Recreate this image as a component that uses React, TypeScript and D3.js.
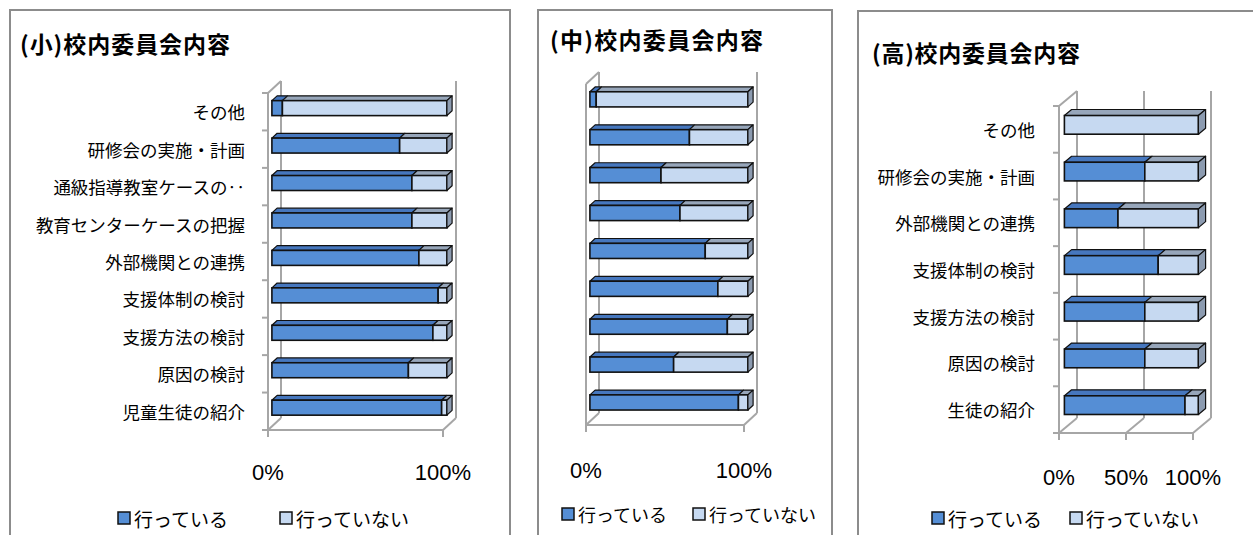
import React from 'react';
import * as d3 from 'd3';

// ---------- data ----------
const titleSmall = '(小)校内委員会内容';
const titleMid = '(中)校内委員会内容';
const titleHigh = '(高)校内委員会内容';

const catsSmall = ['その他', '研修会の実施・計画', '通級指導教室ケースの‥', '教育センターケースの把握', '外部機関との連携', '支援体制の検討', '支援方法の検討', '原因の検討', '児童生徒の紹介'];
const doneSmall = [6, 73, 80, 80, 84, 95, 92, 78, 97];

const catsMid = ['その他', '研修会の実施・計画', '通級指導教室ケースの把握', '教育センターケースの把握', '外部機関との連携', '支援体制の検討', '支援方法の検討', '原因の検討', '生徒の紹介'];
const doneMid = [4, 63, 45, 57, 73, 81, 87, 53, 94];

const catsHigh = ['その他', '研修会の実施・計画', '外部機関との連携', '支援体制の検討', '支援方法の検討', '原因の検討', '生徒の紹介'];
const doneHigh = [0, 60, 40, 70, 60, 60, 90];

const ticksSmall = [0, 100];
const ticksMid = [0, 100];
const ticksHigh = [0, 50, 100];

const seriesNames = ['行っている', '行っていない'];

// ---------- style ----------
const DARK = '#558ED5';
const DARK_TOP = '#4677BE';
const DARK_SIDE = '#3D69A8';
const LIGHT = '#C6D9F1';
const LIGHT_TOP = '#97A6BA';
const LIGHT_SIDE = '#8C9BB0';
const GRID = '#A6A6A6';
const JP = '"Noto Sans CJK JP", "Noto Sans", sans-serif';
const NUM = '"Liberation Sans", Arial, sans-serif';

type Cfg = {
  bx: number; by: number; bw: number;
  x0: number; x1: number; yTop: number; yBot: number; dx: number; dy: number;
  showLabels: boolean; labelX: number; labelSize: number; catTicks: boolean;
  titleX: number; titleY: number; titleW: number;
  tickLabelY: number;
  legY: number; leg1X: number; leg2X: number; legSize: number;
};

function Panel({ cfg, cats, done, title, ticks }: { cfg: Cfg; cats: string[]; done: number[]; title: string; ticks: number[] }) {
  const x = d3.scaleLinear().domain([0, 100]).range([cfg.x0, cfg.x1]);
  const y = d3.scaleBand<string>().domain(cats).range([cfg.yTop, cfg.yBot]).padding(0);
  const { dx, dy } = cfg;
  const f0 = 0.3, f1 = 0.7;
  const ddx = (f1 - f0) * dx, ddy = (f1 - f0) * dy;
  const bw = y.bandwidth();
  const bh = bw * 0.4;
  const boundaries = d3.range(cats.length + 1).map(i => cfg.yTop + i * bw);

  const bars = cats.map((c, i) => {
    const yc = (y(c) as number) + bw / 2;
    const yt = yc - bh / 2 + f0 * dy;
    const segs = [
      { a: 0, b: done[i], fill: DARK, top: DARK_TOP, side: DARK_SIDE },
      { a: done[i], b: 100, fill: LIGHT, top: LIGHT_TOP, side: LIGHT_SIDE },
    ].filter(s => s.b - s.a > 0.001);
    const last = segs[segs.length - 1];
    const xEnd = x(100) + f0 * dx;
    return (
      <g key={c}>
        {segs.map((s, j) => {
          const xa = x(s.a) + f0 * dx, xb = x(s.b) + f0 * dx;
          return (
            <g key={j}>
              <polygon points={`${xa},${yt} ${xb},${yt} ${xb + ddx},${yt + ddy} ${xa + ddx},${yt + ddy}`} fill={s.top} stroke="#111" strokeWidth={1.2} strokeLinejoin="round" />
              <rect x={xa} y={yt} width={xb - xa} height={bh} fill={s.fill} stroke="#111" strokeWidth={1.6} />
            </g>
          );
        })}
        <polygon points={`${xEnd},${yt} ${xEnd + ddx},${yt + ddy} ${xEnd + ddx},${yt + bh + ddy} ${xEnd},${yt + bh}`} fill={last.side} stroke="#111" strokeWidth={1.2} strokeLinejoin="round" />
      </g>
    );
  });

  return (
    <g>
      <rect x={cfg.bx} y={cfg.by} width={cfg.bw} height={600} fill="#fff" stroke="#8C8C8C" strokeWidth={2} />
      <text x={cfg.titleX} y={cfg.titleY} fontFamily={JP} fontWeight="bold" fontSize={23} dominantBaseline="central" textLength={cfg.titleW} lengthAdjust="spacing">{title}</text>
      {ticks.map(t => (
        <line key={'g' + t} x1={x(t) + dx} x2={x(t) + dx} y1={cfg.yTop + dy} y2={cfg.yBot + dy} stroke={GRID} strokeWidth={2} />
      ))}
      {ticks.map(t => (
        <line key={'f' + t} x1={x(t)} x2={x(t) + dx} y1={cfg.yBot} y2={cfg.yBot + dy} stroke={GRID} strokeWidth={2} />
      ))}
      <line x1={cfg.x0} x2={cfg.x0} y1={cfg.yTop} y2={cfg.yBot} stroke={GRID} strokeWidth={2} />
      <line x1={cfg.x0} x2={cfg.x0 + dx} y1={cfg.yTop} y2={cfg.yTop + dy} stroke={GRID} strokeWidth={2} />
      <line x1={cfg.x0} x2={cfg.x1} y1={cfg.yBot} y2={cfg.yBot} stroke={GRID} strokeWidth={2} />
      {ticks.map(t => (
        <line key={'t' + t} x1={x(t)} x2={x(t)} y1={cfg.yBot} y2={cfg.yBot + 7} stroke={GRID} strokeWidth={2} />
      ))}
      {cfg.catTicks && boundaries.map((b, i) => (
        <line key={'c' + i} x1={cfg.x0 - 6} x2={cfg.x0} y1={b} y2={b} stroke={GRID} strokeWidth={2} />
      ))}
      {bars}
      {cfg.showLabels && cats.map(c => (
        <text key={'l' + c} x={cfg.labelX} y={(y(c) as number) + bw / 2} textAnchor="end" dominantBaseline="central" fontFamily={JP} fontSize={cfg.labelSize} fill="#000">{c}</text>
      ))}
      {ticks.map(t => (
        <text key={'tl' + t} x={x(t)} y={cfg.tickLabelY} textAnchor="middle" dominantBaseline="central" fontFamily={NUM} fontSize={22} fill="#000">{`${t}%`}</text>
      ))}
      {[cfg.leg1X, cfg.leg2X].map((lx, i) => (
        <g key={'lg' + i}>
          <rect x={lx} y={cfg.legY - 6} width={12} height={12} fill={i === 0 ? DARK : LIGHT} stroke="#111" strokeWidth={1.5} />
          <text x={lx + 16} y={cfg.legY} dominantBaseline="central" fontFamily={JP} fontSize={cfg.legSize} fill="#000">{seriesNames[i]}</text>
        </g>
      ))}
    </g>
  );
}

const cfgSmall: Cfg = {
  bx: 10, by: 10, bw: 500,
  x0: 268, x1: 443, yTop: 93, yBot: 430, dx: 13, dy: -12,
  showLabels: true, labelX: 245, labelSize: 17.5, catTicks: true,
  titleX: 20, titleY: 43, titleW: 210,
  tickLabelY: 472,
  legY: 518, leg1X: 118, leg2X: 280, legSize: 19,
};
const cfgMid: Cfg = {
  bx: 538, by: 10, bw: 294,
  x0: 586, x1: 744, yTop: 84, yBot: 425, dx: 13, dy: -12,
  showLabels: false, labelX: 0, labelSize: 17, catTicks: false,
  titleX: 550, titleY: 39, titleW: 213,
  tickLabelY: 470,
  legY: 514, leg1X: 562, leg2X: 693, legSize: 18,
};
const cfgHigh: Cfg = {
  bx: 858, by: 11, bw: 420,
  x0: 1059, x1: 1193, yTop: 106, yBot: 433, dx: 18, dy: -15,
  showLabels: true, labelX: 1035, labelSize: 17.5, catTicks: true,
  titleX: 872, titleY: 52, titleW: 208,
  tickLabelY: 477,
  legY: 518, leg1X: 932, leg2X: 1070, legSize: 19,
};

export default function App() {
  return (
    <svg width={1253} height={535} style={{ position: 'absolute', left: 0, top: 0, background: '#fff' }}>
      <rect x={0} y={0} width={1253} height={535} fill="#fff" />
      <Panel cfg={cfgSmall} cats={catsSmall} done={doneSmall} title={titleSmall} ticks={ticksSmall} />
      <Panel cfg={cfgMid} cats={catsMid} done={doneMid} title={titleMid} ticks={ticksMid} />
      <Panel cfg={cfgHigh} cats={catsHigh} done={doneHigh} title={titleHigh} ticks={ticksHigh} />
    </svg>
  );
}
